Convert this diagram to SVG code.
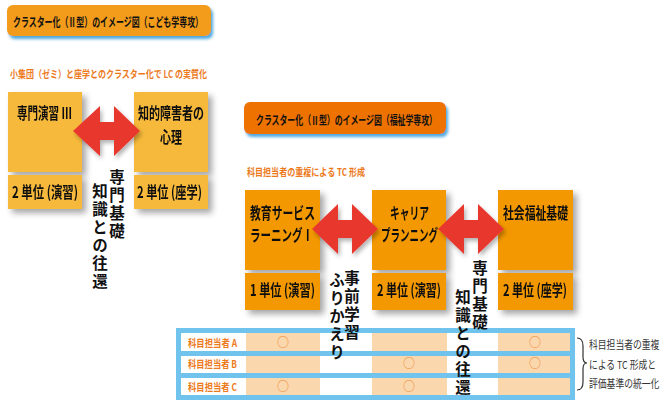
<svg xmlns="http://www.w3.org/2000/svg" width="660" height="400" viewBox="0 0 660 400">
<defs>
<filter id="sh" x="-20%" y="-20%" width="150%" height="150%"><feDropShadow dx="4" dy="4" stdDeviation="3" flood-color="#000" flood-opacity="0.35"/></filter>
<filter id="bsh" x="-10%" y="-20%" width="130%" height="160%"><feDropShadow dx="2" dy="3" stdDeviation="1.5" flood-color="#3A9FDC" flood-opacity="0.9"/></filter>
<filter id="ash" x="-20%" y="-20%" width="150%" height="150%"><feDropShadow dx="2" dy="3" stdDeviation="2" flood-color="#000" flood-opacity="0.3"/></filter>
<style>
text{font-family:"Noto Sans CJK JP","Noto Sans",sans-serif;}
.t{font-size:12.5px;font-weight:700;fill:#111;}
.s{font-size:10.5px;font-weight:700;fill:#EC7A1C;}
.b{font-size:16px;font-weight:700;fill:#111;}
.v{font-size:15.5px;font-weight:700;fill:#111;writing-mode:vertical-rl;letter-spacing:2.5px;}
.lbl{font-size:10.5px;font-weight:700;fill:#EC7A1C;}
.c{font-size:12px;fill:#EE8A2E;text-anchor:middle;}
.n{font-size:11px;fill:#333;}
.lb{fill:#F6B93B;}
.rb{fill:#F39800;}
.arr{fill:#E8382F;}
</style>
</defs>
<rect width="660" height="400" fill="#fff"/>

<g id="title1">
<rect x="7" y="5" width="204" height="31" rx="6" fill="#F39C1A" filter="url(#bsh)"/>
<text class="t" x="13" y="26.5" textLength="190" lengthAdjust="spacingAndGlyphs">クラスター化（Ⅱ型）のイメージ図（こども学専攻）</text>
</g>
<g id="subtitle1">
<text class="s" x="10" y="78" textLength="197" lengthAdjust="spacingAndGlyphs">小集団（ゼミ）と座学とのクラスター化で LC の実質化</text>
</g>

<g id="title2">
<rect x="244" y="102" width="202" height="32" rx="6" fill="#EE7203" filter="url(#bsh)"/>
<text class="t" style="font-size:12px" x="256" y="124.5" textLength="181" lengthAdjust="spacingAndGlyphs">クラスター化（Ⅱ型）のイメージ図（福祉学専攻）</text>
</g>
<g id="subtitle2">
<text class="s" x="247" y="176" textLength="118" lengthAdjust="spacingAndGlyphs">科目担当者の重複による TC 形成</text>
</g>

<g id="nodeL1" filter="url(#sh)">
<rect class="lb" x="8" y="92" width="74" height="80"/>
<rect class="lb" x="8" y="175" width="74" height="34"/>
<text class="b" x="17" y="119" textLength="55" lengthAdjust="spacingAndGlyphs">専門演習 Ⅲ</text>
<text class="b" x="12" y="198" textLength="66" lengthAdjust="spacingAndGlyphs">2 単位 (演習)</text>
</g>
<g id="nodeL2" filter="url(#sh)">
<rect class="lb" x="134" y="92" width="74" height="80"/>
<rect class="lb" x="134" y="175" width="74" height="34"/>
<text class="b" x="138" y="119" textLength="66" lengthAdjust="spacingAndGlyphs">知的障害者の</text>
<text class="b" x="160" y="143" textLength="22" lengthAdjust="spacingAndGlyphs">心理</text>
<text class="b" x="137" y="198" textLength="65" lengthAdjust="spacingAndGlyphs">2 単位 (座学)</text>
</g>

<g id="nodeR1" filter="url(#sh)">
<rect class="rb" x="245" y="190" width="75" height="80"/>
<rect class="rb" x="245" y="273" width="75" height="37"/>
<text class="b" x="250" y="219" textLength="65" lengthAdjust="spacingAndGlyphs">教育サービス</text>
<text class="b" x="250" y="241" textLength="63" lengthAdjust="spacingAndGlyphs">ラーニングⅠ</text>
<text class="b" x="250" y="296" textLength="65" lengthAdjust="spacingAndGlyphs">1 単位 (演習)</text>
</g>
<g id="nodeR2" filter="url(#sh)">
<rect class="rb" x="372" y="190" width="74" height="80"/>
<rect class="rb" x="372" y="273" width="74" height="37"/>
<text class="b" x="390" y="219" textLength="39" lengthAdjust="spacingAndGlyphs">キャリア</text>
<text class="b" x="381" y="241" textLength="57" lengthAdjust="spacingAndGlyphs">プランニング</text>
<text class="b" x="377" y="296" textLength="64" lengthAdjust="spacingAndGlyphs">2 単位 (演習)</text>
</g>
<g id="nodeR3" filter="url(#sh)">
<rect class="rb" x="498" y="190" width="75" height="80"/>
<rect class="rb" x="498" y="273" width="75" height="37"/>
<text class="b" x="503" y="219" textLength="65" lengthAdjust="spacingAndGlyphs">社会福祉基礎</text>
<text class="b" x="503" y="296" textLength="64" lengthAdjust="spacingAndGlyphs">2 単位 (座学)</text>
</g>

<g id="table">
<rect x="176" y="328" width="399" height="72" fill="#6FC3EC"/>
<g fill="#fff">
<rect x="181" y="333" width="389" height="18"/>
<rect x="181" y="356" width="389" height="17"/>
<rect x="181" y="378" width="389" height="17"/>
</g>
<g fill="#FBD7AE">
<rect x="246" y="333" width="74" height="18"/><rect x="372" y="333" width="75" height="18"/><rect x="498" y="333" width="72" height="18"/>
<rect x="246" y="356" width="74" height="17"/><rect x="372" y="356" width="75" height="17"/><rect x="498" y="356" width="72" height="17"/>
<rect x="246" y="378" width="74" height="17"/><rect x="372" y="378" width="75" height="17"/><rect x="498" y="378" width="72" height="17"/>
</g>
<text class="lbl" x="188" y="347" textLength="49" lengthAdjust="spacingAndGlyphs">科目担当者 A</text>
<text class="lbl" x="188" y="368" textLength="49" lengthAdjust="spacingAndGlyphs">科目担当者 B</text>
<text class="lbl" x="188" y="391" textLength="49" lengthAdjust="spacingAndGlyphs">科目担当者 C</text>
<text class="c" x="283" y="347">○</text>
<text class="c" x="535" y="347">○</text>
<text class="c" x="409" y="368">○</text>
<text class="c" x="535" y="368">○</text>
<text class="c" x="283" y="391">○</text>
<text class="c" x="409" y="391">○</text>
</g>

<g id="note">
<path d="M577,338 Q583,338 583,346 L583,357 Q583,363 587,363 Q583,363 583,369 L583,382 Q583,390 577,390" fill="none" stroke="#333" stroke-width="1.2"/>
<text class="n" transform="translate(589,349) scale(0.8,1)">科目担当者の重複</text>
<text class="n" transform="translate(589,369) scale(0.8,1)">による TC 形成と</text>
<text class="n" transform="translate(589,388) scale(0.8,1)">評価基準の統一化</text>
</g>

<g id="connectors" filter="url(#ash)">
<polygon class="arr" points="73,131 100,106 100,122 114,122 114,106 140,131 114,156 114,140 100,140 100,156"/>
<polygon class="arr" points="312,229 338,204 338,220 352,220 352,204 378,229 352,254 352,238 338,238 338,254"/>
<polygon class="arr" points="438,229 464,204 464,220 478,220 478,204 504,229 478,254 478,238 464,238 464,254"/>
</g>

<g id="labels">
<text class="v" x="117" y="169">専門基礎</text>
<text class="v" x="100" y="183">知識との往還</text>
<text class="v" x="352" y="270">事前学習</text>
<text class="v" x="337" y="272">ふりかえり</text>
<text class="v" x="480" y="260">専門基礎</text>
<text class="v" x="463" y="289">知識との往還</text>
</g>
</svg>
